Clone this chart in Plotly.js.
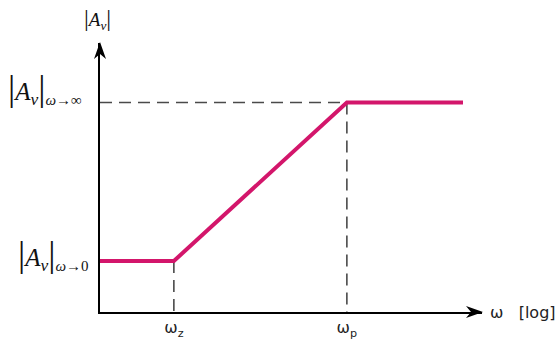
<!DOCTYPE html>
<html>
<head>
<meta charset="utf-8">
<script src="https://cdn.plot.ly/plotly-3.0.1.min.js"></script>
<style>
  html, body { margin: 0; padding: 0; background: #ffffff; }
  #chart { width: 556px; height: 344px; }
</style>
</head>
<body>
<div id="chart"></div>
<script>
// Asymptotic Bode magnitude of a zero-pole pair (log-log)
const omega = [0.14, 1, 100, 2200];       // start, ω_z, ω_p, end
const gain = [1, 1, 100, 100];            // |A_v| along the asymptote
const omegaZ = omega[1];
const omegaP = omega[2];
const gainLow = gain[0];
const gainHigh = gain[2];

const xTickVals = [omegaZ, omegaP];
const xTickText = ['ω<sub>z</sub>', 'ω<sub>p</sub>'];
const bar = '<span style="font-size:36px">|</span>';
const yLabelHigh = bar + '<i>A</i><sub><i>v</i></sub>' + bar + '<sub><span style="font-size:15px"><i>ω</i>→∞</span></sub>';
const yLabelLow = bar + '<i>A</i><sub><i>v</i></sub>' + bar + '<sub><span style="font-size:15px"><i>ω</i>→0</span></sub>';
const yAxisLabel = '<span style="font-size:24px">|</span><i>A</i><sub><i>v</i></sub><span style="font-size:24px">|</span>';
const xAxisLabel = 'ω\u00a0\u00a0\u00a0[log]';

const lg = Math.log10;
const xRange = [lg(omega[0]), lg(omega[0]) + 4.416];
const yRange = [-0.6435, 2.751];
const yBottom = Math.pow(10, yRange[0]);

const dashStyle = { color: '#4a4a4a', width: 1.6, dash: '12px,7px' };

const traces = [
  { x: [omega[0], omegaP], y: [gainHigh, gainHigh], mode: 'lines', line: dashStyle, hoverinfo: 'skip' },
  { x: [omegaZ, omegaZ], y: [gainLow, yBottom], mode: 'lines', line: dashStyle, hoverinfo: 'skip' },
  { x: [omegaP, omegaP], y: [gainHigh, yBottom], mode: 'lines', line: dashStyle, hoverinfo: 'skip' },
  { x: omega, y: gain, mode: 'lines', line: { color: '#D3166B', width: 4 }, hoverinfo: 'skip' }
];

const serif = { family: 'Liberation Serif, Times New Roman, serif', color: '#111111' };

const layout = {
  width: 556,
  height: 344,
  margin: { l: 100, r: 74, t: 43, b: 32 },
  paper_bgcolor: '#ffffff',
  plot_bgcolor: '#ffffff',
  showlegend: false,
  xaxis: {
    type: 'log',
    range: xRange,
    showgrid: false,
    zeroline: false,
    showline: true,
    linecolor: '#000000',
    linewidth: 2,
    ticks: '',
    tickvals: xTickVals,
    ticktext: xTickText,
    tickfont: { family: 'DejaVu Sans, sans-serif', size: 16, color: '#222222' },
    fixedrange: true
  },
  yaxis: {
    type: 'log',
    range: yRange,
    showgrid: false,
    zeroline: false,
    showline: true,
    linecolor: '#000000',
    linewidth: 2,
    ticks: '',
    showticklabels: false,
    fixedrange: true
  },
  shapes: [
    { type: 'path', xref: 'paper', yref: 'paper', xsizemode: 'pixel', ysizemode: 'pixel',
      xanchor: 1, yanchor: 0, path: 'M1,0 L-16,6 L-11,0 L-16,-6 Z',
      fillcolor: '#000000', line: { width: 0 } },
    { type: 'path', xref: 'paper', yref: 'paper', xsizemode: 'pixel', ysizemode: 'pixel',
      xanchor: 0, yanchor: 1, path: 'M0,1 L-6,-16 L0,-11 L6,-16 Z',
      fillcolor: '#000000', line: { width: 0 } }
  ],
  annotations: [
    { xref: 'paper', yref: 'y', x: 0, y: lg(gainHigh), xanchor: 'right', yanchor: 'middle',
      xshift: -16, yshift: 14, showarrow: false, text: yLabelHigh, font: Object.assign({ size: 25 }, serif) },
    { xref: 'paper', yref: 'y', x: 0, y: lg(gainLow), xanchor: 'right', yanchor: 'middle',
      xshift: -9, yshift: 7, showarrow: false, text: yLabelLow, font: Object.assign({ size: 25 }, serif) },
    { xref: 'paper', yref: 'paper', x: 0, y: 1, xanchor: 'center', yanchor: 'bottom',
      xshift: -3, yshift: 8, showarrow: false, text: yAxisLabel, font: Object.assign({ size: 19 }, serif) },
    { xref: 'paper', yref: 'paper', x: 1, y: 0, xanchor: 'left', yanchor: 'middle',
      xshift: 6, yshift: 0, showarrow: false, text: xAxisLabel,
      font: { family: 'DejaVu Sans, sans-serif', size: 16, color: '#222222' } }
  ]
};

Plotly.newPlot('chart', traces, layout, { staticPlot: true, displayModeBar: false });
</script>
</body>
</html>
